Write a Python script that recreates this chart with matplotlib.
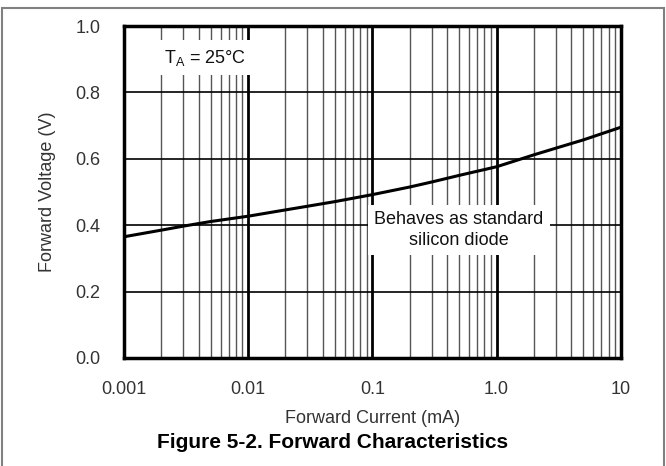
import matplotlib
matplotlib.use("Agg")
import matplotlib.pyplot as plt
from matplotlib.ticker import LogLocator, FixedLocator, NullFormatter
from matplotlib.patches import Rectangle

plt.rcParams['font.family'] = ['Liberation Sans', 'DejaVu Sans']
plt.rcParams['mathtext.fontset'] = 'custom'
plt.rcParams['mathtext.rm'] = 'Liberation Sans'
plt.rcParams['mathtext.it'] = 'Liberation Sans'

current_mA = [0.001, 0.002, 0.003, 0.005, 0.01, 0.02, 0.03, 0.05, 0.1, 0.2, 0.3, 0.5, 1.0, 1.5, 2.0, 3.0, 5.0, 10.0]
voltage_V = [0.365, 0.385, 0.397, 0.411, 0.427, 0.446, 0.457, 0.471, 0.492, 0.515, 0.530, 0.550, 0.576, 0.597, 0.612, 0.632, 0.657, 0.695]
xtick_vals = [0.001, 0.01, 0.1, 1.0, 10]
xtick_labels = ['0.001', '0.01', '0.1', '1.0', '10']
ytick_vals = [0.0, 0.2, 0.4, 0.6, 0.8, 1.0]
ytick_labels = ['0.0', '0.2', '0.4', '0.6', '0.8', '1.0']

fig = plt.figure(figsize=(6.66, 4.66), dpi=100)
fig.patches.append(Rectangle((0.003, -0.01), 0.994, 0.993, transform=fig.transFigure,
                             fill=False, edgecolor='#808080', linewidth=1.5))
ax = fig.add_axes([0.186, 0.232, 0.746, 0.712])
ax.set_xscale('log')
ax.set_xlim(0.001, 10)
ax.set_ylim(0, 1.0)

ax.xaxis.set_major_locator(FixedLocator(xtick_vals))
ax.set_xticks(xtick_vals)
ax.set_xticklabels(xtick_labels)
ax.xaxis.set_minor_locator(LogLocator(base=10, subs=range(2, 10), numticks=20))
ax.xaxis.set_minor_formatter(NullFormatter())
ax.set_yticks(ytick_vals)
ax.set_yticklabels(ytick_labels)

ax.grid(True, which='major', axis='x', color='black', linewidth=2.0, zorder=1)
ax.grid(True, which='minor', axis='x', color='#555555', linewidth=1.0, zorder=1)
ax.grid(True, which='major', axis='y', color='black', linewidth=1.2, zorder=1)
ax.set_axisbelow(True)

ax.tick_params(which='both', length=0, labelsize=13, colors='#333333')
ax.tick_params(axis='x', pad=17)
ax.tick_params(axis='y', pad=17)
for s in ax.spines.values():
    s.set_linewidth(2.5)
    s.set_color('black')

ax.plot(current_mA, voltage_V, color='black', linewidth=2.2, zorder=5)

ax.text(0.0045, 0.905, r'T$_\mathrm{A}$ = 25°C', ha='center', va='center', fontsize=13,
        color='#111111', zorder=4,
        bbox=dict(facecolor='white', edgecolor='none', boxstyle='square,pad=0.4'))
ax.text(0.50, 0.385, 'Behaves as standard\nsilicon diode', ha='center', va='center',
        fontsize=13, color='#111111', linespacing=1.3, zorder=4,
        bbox=dict(facecolor='white', edgecolor='none', boxstyle='square,pad=0.35'))

ax.set_xlabel('Forward Current (mA)', fontsize=13, color='#333333', labelpad=8)
ax.set_ylabel('Forward Voltage (V)', fontsize=13, color='#333333', labelpad=14)

fig.text(0.5, 0.051, 'Figure 5-2. Forward Characteristics', ha='center', va='center',
         fontsize=15, fontweight='bold', color='black')

fig.savefig('out.png', dpi=100)
